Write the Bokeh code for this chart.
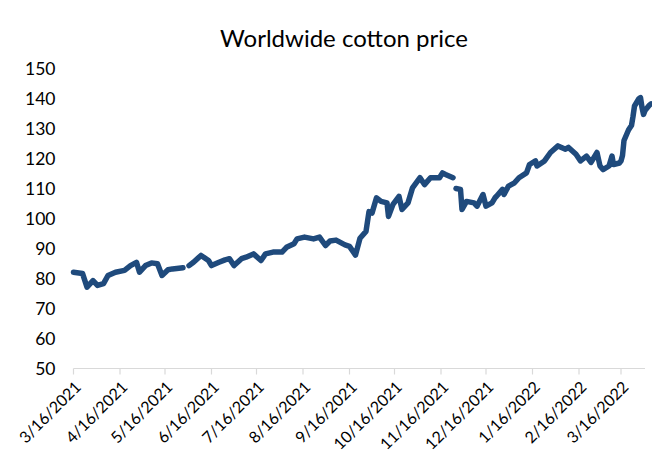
import math
import pandas as pd
from bokeh.plotting import figure
from bokeh.models import Range1d, ColumnDataSource
from bokeh.core.properties import value
from bokeh.embed import file_html
from bokeh.resources import INLINE

title_text = "Worldwide cotton price"

dates = [
    "3/16/2021", "3/22/2021", "3/25/2021", "3/29/2021", "4/1/2021", "4/5/2021",
    "4/8/2021", "4/13/2021", "4/19/2021", "4/23/2021", "4/27/2021", "4/29/2021",
    "5/3/2021", "5/7/2021", "5/11/2021", "5/14/2021", "5/18/2021", "5/21/2021",
    "5/28/2021", "5/31/2021", "6/1/2021", "6/4/2021", "6/9/2021", "6/14/2021",
    "6/16/2021", "6/21/2021", "6/25/2021", "6/28/2021", "7/1/2021", "7/6/2021",
    "7/9/2021", "7/14/2021", "7/19/2021", "7/22/2021", "7/27/2021", "8/2/2021",
    "8/5/2021", "8/10/2021", "8/12/2021", "8/17/2021", "8/23/2021", "8/27/2021",
    "8/31/2021", "9/3/2021", "9/7/2021", "9/13/2021", "9/16/2021", "9/20/2021",
    "9/23/2021", "9/27/2021", "9/29/2021", "10/1/2021", "10/4/2021", "10/7/2021",
    "10/11/2021", "10/12/2021", "10/15/2021", "10/19/2021", "10/21/2021", "10/25/2021",
    "10/28/2021", "11/2/2021", "11/5/2021", "11/9/2021", "11/15/2021", "11/17/2021",
    "11/19/2021", "11/24/2021", "11/25/2021", "11/26/2021", "11/29/2021", "11/30/2021",
    "12/3/2021", "12/8/2021", "12/10/2021", "12/14/2021", "12/16/2021", "12/20/2021",
    "12/22/2021", "12/23/2021", "12/27/2021", "12/28/2021", "12/31/2021", "1/4/2022",
    "1/7/2022", "1/12/2022", "1/14/2022", "1/18/2022", "1/19/2022", "1/24/2022",
    "1/28/2022", "2/2/2022", "2/7/2022", "2/9/2022", "2/14/2022", "2/17/2022",
    "2/21/2022", "2/24/2022", "2/28/2022", "3/2/2022", "3/4/2022", "3/8/2022",
    "3/10/2022", "3/11/2022", "3/15/2022", "3/16/2022", "3/17/2022", "3/18/2022",
    "3/21/2022", "3/22/2022", "3/23/2022", "3/24/2022", "3/25/2022", "3/28/2022",
    "3/29/2022", "3/30/2022", "3/31/2022", "4/1/2022", "4/4/2022", "4/5/2022",
]

prices = [
    82.1, 81.7, 77.1, 79.3, 77.7, 78.3,
    81.0, 82.1, 82.7, 84.3, 85.4, 82.1,
    84.3, 85.2, 84.9, 81.0, 82.9, 83.2,
    83.6, float("nan"), 84.3, 85.4, 87.7, 86.0,
    84.3, 85.4, 86.2, 86.6, 84.3, 86.6,
    87.1, 88.2, 86.0, 88.2, 88.8, 88.8,
    90.4, 91.6, 93.2, 93.8, 93.2, 93.8,
    91.0, 92.5, 92.8, 91.2, 90.7, 87.8,
    93.4, 95.7, 102.3, 101.8, 106.9, 105.7,
    105.2, 100.7, 104.7, 107.4, 103.0, 105.2,
    110.2, 113.6, 111.3, 113.6, 113.6, 115.2,
    114.7, 113.6, float("nan"), 110.0, 109.7, 103.0,
    105.7, 105.2, 104.1, 108.0, 104.1, 105.2,
    106.9, 107.4, 109.7, 108.0, 110.8, 111.9,
    113.6, 115.2, 118.0, 119.2, 117.5, 119.2,
    122.0, 124.2, 123.1, 123.7, 121.4, 119.2,
    120.8, 118.7, 122.0, 117.5, 116.3, 117.5,
    120.8, 118.0, 118.5, 119.2, 121.0, 126.0,
    129.5, 130.3, 131.0, 134.0, 137.5, 140.0,
    140.3, 137.0, 134.7, 136.0, 137.8, 138.2,
]

tick_labels = [
    "3/16/2021", "4/16/2021", "5/16/2021", "6/16/2021", "7/16/2021",
    "8/16/2021", "9/16/2021", "10/16/2021", "11/16/2021", "12/16/2021",
    "1/16/2022", "2/16/2022", "3/16/2022",
]
y_ticks = [50, 60, 70, 80, 90, 100, 110, 120, 130, 140, 150]
axis_end_label = "4/1/2022"

x_dates = pd.to_datetime(dates, format="%m/%d/%Y")
tick_dt = pd.to_datetime(tick_labels, format="%m/%d/%Y")
axis_end = pd.to_datetime(axis_end_label, format="%m/%d/%Y")

# ---- layout in pixels (the whole canvas is the plotting frame) ----
W, H = 652, 455
plot_left_px = 73       # where the first date tick sits
plot_top_px = 68        # where 150 sits
px_per_unit = 3.0       # 300 px between 50 and 150
px_per_day = 1.5

y_lo, y_hi = y_ticks[0], y_ticks[-1]
x0 = tick_dt[0]
day = pd.Timedelta(days=1)

x_range = Range1d(x0 - day * (plot_left_px / px_per_day),
                  x0 + day * ((W - plot_left_px) / px_per_day))
y_range = Range1d(y_hi - (H - plot_top_px) / px_per_unit,
                  y_hi + plot_top_px / px_per_unit)

p = figure(
    width=W, height=H,
    x_axis_type="datetime",
    x_axis_location=None, y_axis_location=None,
    x_range=x_range, y_range=y_range,
    output_backend="svg",
    toolbar_location=None,
    min_border=0,
)
p.outline_line_color = None
p.xgrid.grid_line_color = None
p.ygrid.grid_line_color = None
p.background_fill_color = "white"
p.border_fill_color = "white"

font = value("Lato")

# title
title_x = x0 + day * ((343.5 - plot_left_px) / px_per_day)
title_y = y_hi + (plot_top_px - 37) / px_per_unit
p.text(x=[title_x], y=[title_y], text=[title_text], text_font=font,
       text_font_size="24px", text_color="#000000",
       text_align="center", text_baseline="alphabetic")

# y axis labels
ylab_x = x0 - day * (18 / px_per_day)
ysrc = ColumnDataSource(data=dict(
    x=[ylab_x] * len(y_ticks), y=y_ticks, text=[str(v) for v in y_ticks]))
p.text(x="x", y="y", text="text", source=ysrc, text_font=font,
       text_font_size="17.5px", text_color="#000000",
       text_align="right", text_baseline="middle")

# x axis: line, tick marks, rotated labels
axis_color = "#d9d9d9"
p.segment(x0=[x0], y0=[y_lo], x1=[axis_end], y1=[y_lo],
          line_color=axis_color, line_width=1.2)
tick_len = 6 / px_per_unit
xsrc = ColumnDataSource(data=dict(
    x=tick_dt, y0=[y_lo] * len(tick_dt), y1=[y_lo - tick_len] * len(tick_dt),
    text=tick_labels))
p.segment(x0="x", y0="y0", x1="x", y1="y1", source=xsrc,
          line_color=axis_color, line_width=1.2)
p.text(x="x", y="y0", text="text", source=xsrc, angle=math.pi / 4,
       text_align="right", text_baseline="middle",
       x_offset=4, y_offset=15,
       text_font=font, text_font_size="16px", text_color="#000000")

# the price series
src = ColumnDataSource(data=dict(x=x_dates, y=prices))
p.line("x", "y", source=src, line_color="#1F4A7C", line_width=5.5,
       line_cap="round", line_join="round")

open("out.html", "w").write(file_html(p, INLINE))
